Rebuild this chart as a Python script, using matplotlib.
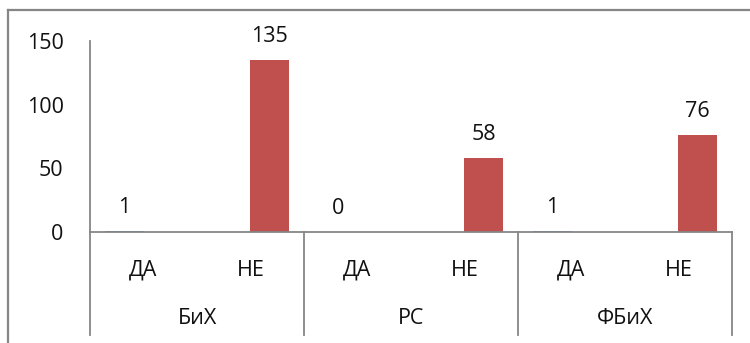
import matplotlib
matplotlib.use("Agg")
import matplotlib.pyplot as plt
from matplotlib.lines import Line2D
import matplotlib.transforms as mtransforms

plt.rcParams['font.family'] = ['Open Sans', 'DejaVu Sans']

groups = ["БиХ", "РС", "ФБиХ"]
answers = ["ДА", "НЕ"]
da_values = [1, 0, 1]
ne_values = [135, 58, 76]
y_ticks = [0, 50, 100, 150]

W, H = 750, 343
fig = plt.figure(figsize=(W / 100, H / 100), dpi=100)

# plot area in pixels
px_left, px_right = 90, 732
px_zero, px_top = 232, 41
ax = fig.add_axes([px_left / W, (H - px_zero) / H,
                   (px_right - px_left) / W, (px_zero - px_top) / H])

AX_GREY = "#868686"
BLUE = "#4F81BD"
RED = "#C0504D"
FS = 15.5

n_groups = len(groups)
bar_w = 0.365
off = 0.18

da_x = [g * 2 + 0 - off for g in range(n_groups)]
ne_x = [g * 2 + 1 + off for g in range(n_groups)]
ax.bar(da_x, da_values, width=bar_w, color=BLUE)
ax.bar(ne_x, ne_values, width=bar_w, color=RED)

for x, v in list(zip(da_x, da_values)) + list(zip(ne_x, ne_values)):
    ax.annotate(str(v), (x, v), xytext=(0, 17), textcoords="offset points",
                ha="center", va="center", fontsize=FS, color="#111111")

ax.set_xlim(-0.5, n_groups * 2 - 0.5)
ax.set_ylim(0, 150)
ax.set_yticks(y_ticks)
ax.set_yticklabels([str(t) for t in y_ticks], fontsize=FS, color="#111111")
ax.tick_params(axis="y", length=0, pad=19)
ax.set_xticks([])

for s in ["top", "right", "left"]:
    ax.spines[s].set_visible(False)
ax.spines["bottom"].set_color(AX_GREY)
ax.spines["bottom"].set_linewidth(1.3)

# multi-level category axis
trans = mtransforms.blended_transform_factory(ax.transData, ax.transAxes)
low = (px_zero - 335) / (px_zero - px_top)
ax.add_line(Line2D([-0.5, -0.5], [low, 1.0], transform=trans, color=AX_GREY,
                   lw=1.3, clip_on=False))
for g in range(1, n_groups + 1):
    xb = g * 2 - 0.5
    ax.add_line(Line2D([xb, xb], [low, 0], transform=trans, color=AX_GREY,
                       lw=1.3, clip_on=False))

y_ans = (px_zero - 270) / (px_zero - px_top)
y_grp = (px_zero - 318) / (px_zero - px_top)
for g, name in enumerate(groups):
    for i, a in enumerate(answers):
        ax.text(g * 2 + i, y_ans, a, transform=trans, ha="center", va="center",
                fontsize=FS, color="#111111")
    ax.text(g * 2 + 0.5, y_grp, name, transform=trans, ha="center",
            va="center", fontsize=FS, color="#111111")

# chart frame (top and left edges)
fig.add_artist(Line2D([8 / W, 1.0], [(H - 10) / H, (H - 10) / H],
                      transform=fig.transFigure, color=AX_GREY, lw=1.6))
fig.add_artist(Line2D([8 / W, 8 / W], [0, (H - 10) / H],
                      transform=fig.transFigure, color=AX_GREY, lw=1.6))

fig.savefig("out.png", dpi=100, facecolor="white")
